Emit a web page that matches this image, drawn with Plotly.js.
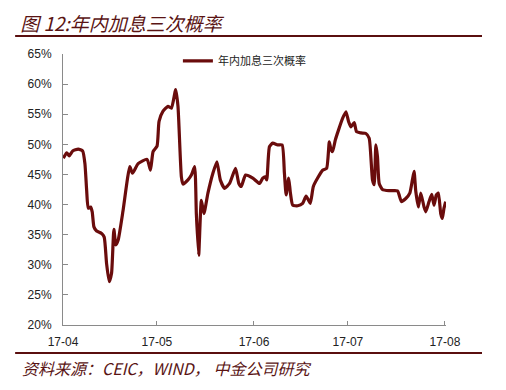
<!DOCTYPE html>
<html><head><meta charset="utf-8">
<script src="https://cdn.plot.ly/plotly-3.0.1.min.js"></script>
<style>html,body{margin:0;padding:0;background:#fff}#chart{width:506px;height:390px}</style>
</head><body><div id="chart"></div>
<script>
// Days after 2017-04-01 for each reading
const dayOffsets = [0.1,1.18,2.0,3.09,4.87,6.28,7.0,7.55,8.06,8.82,9.33,9.88,10.74,12.33,13.16,13.92,14.75,15.51,16.25,16.88,17.62,19.21,21.34,22.2,23.99,26.86,27.94,28.77,30.04,30.68,31.95,33.54,34.63,36.0,36.73,37.81,38.32,39.92,41.0,42.05,42.59,43.33,44.19,45.01,46.29,47.88,49.16,50.24,51.61,53.2,55.11,56.16,56.93,58.3,60.62,62.76,63.81,64.58,65.08,65.94,67.0,68.59,69.99,70.72,71.27,72.09,72.64,73.37,74.96,76.55,77.64,78.46,79.0,79.96,81.33,82.92,84.2,85.06,85.6,86.11,86.97,88.02,89.3,90.38,91.2,91.97,93.02,93.76,95.16,96.75,97.8,98.85,99.39,99.94,100.45,100.99,102.04,104.17,106.82,107.36,108.09,109.49,110.77,111.6,112.14,112.68,113.51,114.27,115.32,115.87,116.92,117.78,118.51,119.25,119.88,120.65,121.16,121.69,122.23];
// Probability of three hikes this year (%)
const probThreeHikes = [47.7,48.6,48.1,48.9,49.2,48.9,46.8,42.4,39.4,39.6,38.8,36.3,35.6,35.2,34.6,30.2,27.2,28.6,35.9,33.3,34.1,39.1,46.3,45.2,46.8,47.5,45.7,48.8,49.7,53.8,55.5,56.3,56.0,59.1,56.3,44.6,43.4,44.1,44.9,46.3,38.5,31.6,40.7,38.5,41.9,45.2,47.1,44.1,42.7,43.5,46.0,43.5,43.0,44.9,44.4,43.5,44.4,44.6,44.1,49.6,50.2,49.9,49.9,45.2,41.6,44.4,41.9,39.9,39.8,40.2,41.4,40.7,40.2,43.0,44.4,45.7,46.0,50.4,49.1,48.8,50.7,52.4,54.3,55.4,53.8,52.9,53.6,52.1,51.9,51.8,51.0,44.1,43.3,49.9,47.9,43.5,42.5,42.3,42.3,41.6,40.5,41.0,41.9,44.1,45.5,42.2,39.6,41.9,39.6,38.8,40.5,41.7,39.9,41.6,41.9,38.5,37.7,39.4,40.5];
const startDate = Date.UTC(2017,3,1);
const dates = dayOffsets.map(d => new Date(startDate + d*86400000).toISOString().replace('T',' ').slice(0,16));
const yTickVals = [20,25,30,35,40,45,50,55,60,65];
const yTickText = yTickVals.map(v => v + '%');
const seriesName = '年内加息三次概率';
const titleText = '图 12:年内加息三次概率';
const sourceText = '资料来源：CEIC，WIND， 中金公司研究';

const lineColor = '#6a0c0c';
const trace = {
  x: dates, y: probThreeHikes, type: 'scatter', mode: 'lines', name: seriesName,
  line: {color: lineColor, width: 3.2, shape: 'spline', smoothing: 0.5}
};
const layout = {
  width: 506, height: 390,
  margin: {l: 63, r: 60, t: 54, b: 65},
  paper_bgcolor: '#fff', plot_bgcolor: '#fff',
  font: {family: 'Liberation Sans, Arial, sans-serif', size: 12, color: '#222'},
  title: {
    text: titleText, xref: 'container', yref: 'container', x: 0.04, xanchor: 'left', y: 0.937, yanchor: 'middle',
    font: {family: 'Noto Sans CJK SC, sans-serif', size: 19, color: '#5a1414', style: 'italic'}
  },
  showlegend: true,
  legend: {x: 0.3, y: 0.975, xanchor: 'left', yanchor: 'middle', orientation: 'h', bgcolor: 'rgba(0,0,0,0)',
    font: {family: 'Noto Sans CJK SC, sans-serif', size: 11, color: '#222'}},
  xaxis: {
    type: 'date', range: ['2017-04-01', '2017-08-01 08:00'],
    tickformat: '%y-%m', dtick: 'M1', tick0: '2017-04-01',
    showgrid: false, zeroline: false, showline: true, linecolor: '#8a8a8a', linewidth: 1,
    ticks: 'inside', ticklen: 4, tickcolor: '#8a8a8a', ticklabelstandoff: 6,
    tickfont: {family: 'Liberation Sans, Arial, sans-serif', size: 12, color: '#222'}
  },
  yaxis: {
    range: [20, 65], tickvals: yTickVals, ticktext: yTickText,
    showgrid: false, zeroline: false, showline: true, linecolor: '#8a8a8a', linewidth: 1,
    ticks: 'inside', ticklen: 5, tickcolor: '#8a8a8a', ticklabelstandoff: 8,
    tickfont: {family: 'Liberation Sans, Arial, sans-serif', size: 12, color: '#222'}
  },
  shapes: [
    {type: 'line', xref: 'paper', yref: 'paper', x0: -0.125, x1: 1.094, y0: 1.066, y1: 1.066, line: {color: '#5a0f0f', width: 2}},
    {type: 'line', xref: 'paper', yref: 'paper', x0: -0.125, x1: 1.094, y0: -0.103, y1: -0.103, line: {color: '#5a0f0f', width: 2}}
  ],
  annotations: [
    {text: sourceText, xref: 'paper', yref: 'paper', x: -0.112, y: -0.159, xanchor: 'left', yanchor: 'middle', showarrow: false,
     font: {family: 'Noto Sans CJK SC, sans-serif', size: 16, color: '#5a1414', style: 'italic'}}
  ]
};
Plotly.newPlot('chart', [trace], layout, {displayModeBar: false, staticPlot: true});
</script></body></html>
